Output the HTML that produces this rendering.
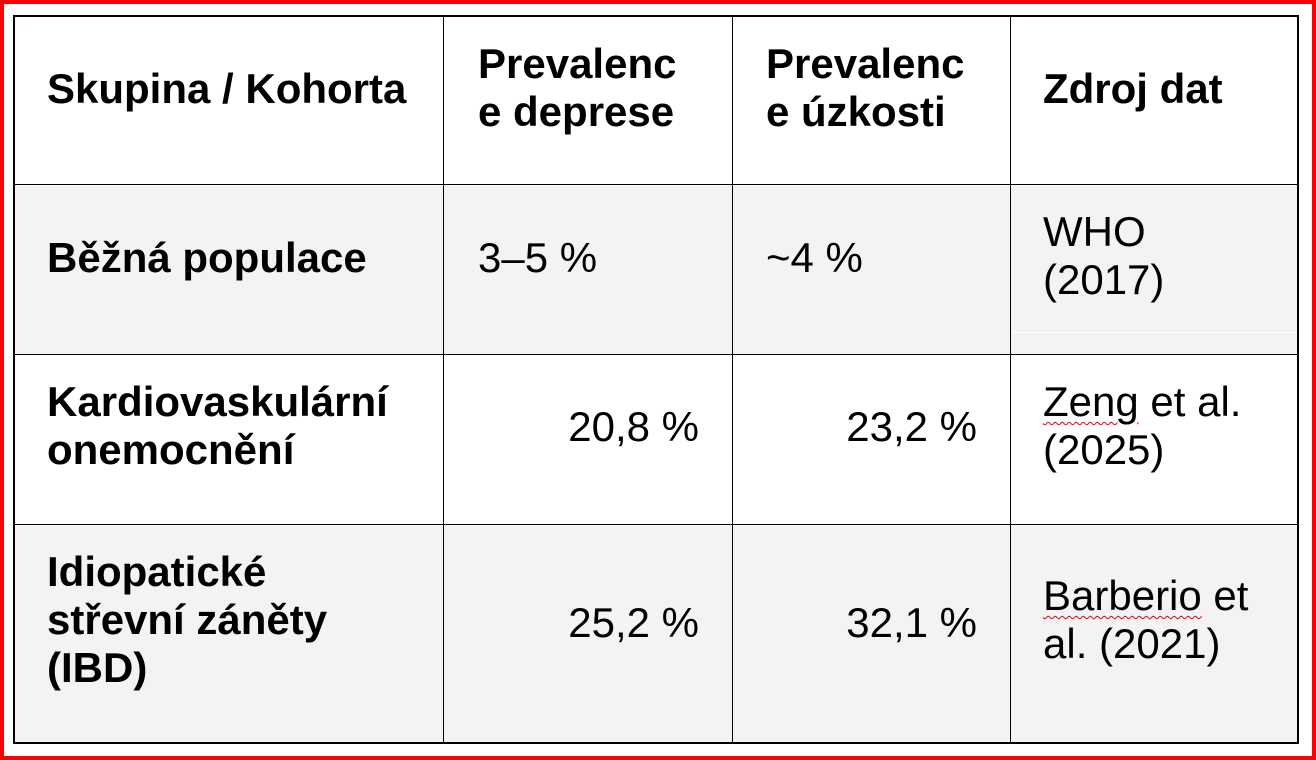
<!DOCTYPE html>
<html><head><meta charset="utf-8"><style>
body{margin:0;width:1316px;height:760px;background:#fff;position:relative;overflow:hidden;font-family:"Liberation Sans",Arial,sans-serif;color:#000}
.frame{position:absolute;left:0;top:0;width:1316px;height:760px;box-sizing:border-box;border:4px solid #f00}
.bg{position:absolute;background:#f3f3f3}
.h{position:absolute;background:#000;height:2px}
.v{position:absolute;background:#000;width:1px}
.t{position:absolute;font-size:42px;line-height:48px;white-space:nowrap}
.b{font-weight:bold}
.r{text-align:right}
.sq{text-decoration:underline wavy #e00;text-decoration-thickness:1px;text-underline-offset:5px}
</style></head><body>
<div class="frame"></div>
<div class="bg" style="left:13px;top:186px;width:1285px;height:169px"></div>
<div class="bg" style="left:13px;top:526px;width:1285px;height:217px"></div>
<div style="position:absolute;left:1011px;top:332px;width:287px;height:1px;background:#fff"></div>
<div class="h" style="left:13px;top:15px;width:1286px"></div>
<div class="h" style="left:13px;top:184px;width:1286px;height:1px"></div>
<div class="h" style="left:13px;top:354px;width:1286px;height:1px"></div>
<div class="h" style="left:13px;top:524px;width:1286px;height:1px"></div>
<div class="h" style="left:13px;top:742px;width:1286px"></div>
<div class="v" style="left:13px;top:15px;height:729px;width:2px"></div>
<div class="v" style="left:443px;top:15px;height:729px"></div>
<div class="v" style="left:732px;top:15px;height:729px"></div>
<div class="v" style="left:1010px;top:15px;height:729px"></div>
<div class="v" style="left:1297px;top:15px;height:729px;width:2px"></div>

<div class="t b" style="left:47px;top:65px">Skupina / Kohorta</div>
<div class="t b" style="left:478px;top:40px">Prevalenc<br>e deprese</div>
<div class="t b" style="left:766px;top:40px">Prevalenc<br>e úzkosti</div>
<div class="t b" style="left:1043px;top:65px">Zdroj dat</div>

<div class="t b" style="left:47px;top:234px">Běžná populace</div>
<div class="t" style="left:478px;top:234px">3–5 %</div>
<div class="t" style="left:766px;top:234px">~4 %</div>
<div class="t" style="left:1043px;top:208px">WHO<br>(2017)</div>

<div class="t b" style="left:47px;top:378px">Kardiovaskulární<br>onemocnění</div>
<div class="t r" style="left:400px;width:299px;top:403px">20,8 %</div>
<div class="t r" style="left:700px;width:277px;top:403px">23,2 %</div>
<div class="t" style="left:1043px;top:378px"><span class="sq">Zeng</span> et al.<br>(2025)</div>

<div class="t b" style="left:47px;top:548px">Idiopatické<br>střevní záněty<br>(IBD)</div>
<div class="t r" style="left:400px;width:299px;top:599px">25,2 %</div>
<div class="t r" style="left:700px;width:277px;top:599px">32,1 %</div>
<div class="t" style="left:1043px;top:572px"><span class="sq">Barberio</span> et<br>al. (2021)</div>
</body></html>
